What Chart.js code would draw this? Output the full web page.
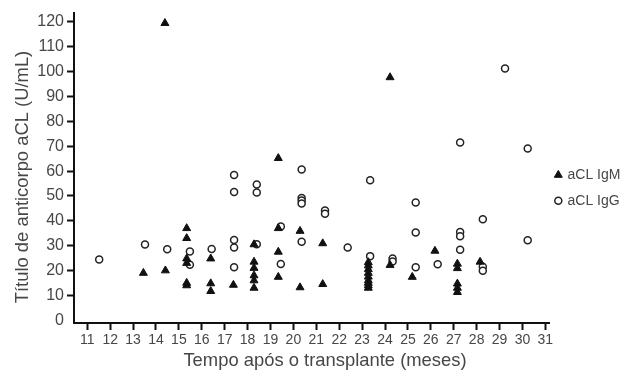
<!DOCTYPE html>
<html>
<head>
<meta charset="utf-8">
<script src="https://cdn.jsdelivr.net/npm/chart.js@4.4.1/dist/chart.umd.min.js"></script>
<style>
html,body{margin:0;padding:0;background:#fff;}
#wrap{width:633px;height:374px;position:relative;}
</style>
</head>
<body>
<div id="wrap"><canvas id="c" width="633" height="374"></canvas></div>
<script>
// ---- data ----
const seriesLabels = ['aCL IgM', 'aCL IgG'];

const igmMonths = [13.45, 14.41, 14.39,
  15.34, 15.34, 15.34, 15.34, 15.34, 15.34,
  16.39, 16.39, 16.39,
  17.38,
  18.28, 18.28, 18.28, 18.28, 18.28, 18.28,
  19.34, 19.34, 19.34, 19.34,
  20.29, 20.29,
  21.28, 21.28,
  23.27, 23.27, 23.27, 23.27, 23.27, 23.27, 23.27, 23.27, 23.27,
  24.22, 24.22,
  25.19,
  26.18,
  27.16, 27.16, 27.16, 27.16, 27.16,
  28.15];
const igmValues = [19, 20, 119.5,
  37, 33, 24.8, 23, 15, 14,
  24.8, 14.8, 11.7,
  14.2,
  30.5, 23.5, 21, 18, 16, 13,
  65.2, 37, 27.5, 17.4,
  35.9, 13.2,
  30.9, 14.5,
  23.3, 22, 20.5, 19, 17.5, 16, 15, 14, 13,
  97.7, 22.2,
  17.4,
  27.9,
  22.7, 20.9, 14.7, 13, 11.3,
  23.5];

const iggMonths = [11.52, 13.52, 14.49,
  15.48, 15.48,
  16.43,
  17.41, 17.41, 17.41, 17.41, 17.41,
  18.4, 18.4, 18.4,
  19.45, 19.45,
  20.36, 20.36, 20.36, 20.36, 20.36,
  21.38, 21.38,
  22.37,
  23.35, 23.35,
  24.33, 24.33,
  25.34, 25.34, 25.34,
  26.3,
  27.28, 27.28, 27.28, 27.28,
  28.27, 28.27, 28.27,
  29.24,
  30.23, 30.23];
const iggValues = [24.4, 30.5, 28.6,
  27.7, 22.3,
  28.7,
  58.4, 51.6, 32.3, 29.3, 21.3,
  54.6, 51.4, 30.6,
  37.7, 22.6,
  60.6, 49.2, 48.2, 47, 31.6,
  44.2, 42.8,
  29.3,
  56.3, 25.8,
  24.8, 23.6,
  47.4, 35.3, 21.3,
  22.5,
  71.5, 35.5, 33.8, 28.4,
  40.6, 21.5, 19.9,
  101.3,
  69.1, 32.2];

const xTickValues = [11,12,13,14,15,16,17,18,19,20,21,22,23,24,25,26,27,28,29,30,31];
const yTickValues = [0,10,20,30,40,50,60,70,80,90,100,110,120];
const xTitle = 'Tempo após o transplante (meses)';
const yTitle = 'Título de anticorpo aCL (U/mL)';

// ---- chart ----
const toPoints = (xs, ys) => xs.map((x, i) => ({x: x, y: ys[i]}));
const textColor = '#474747';
const fontFamily = "'Liberation Sans', Arial, Helvetica, sans-serif";

const decorPlugin = {
  id: 'decor',
  afterDraw(chart) {
    const ctx = chart.ctx;
    ctx.save();
    ctx.fillStyle = textColor;
    ctx.font = '18.4px ' + fontFamily;
    ctx.textAlign = 'center';
    ctx.textBaseline = 'middle';
    ctx.fillText(xTitle, 325, 361);
    ctx.save();
    ctx.translate(23, 177);
    ctx.rotate(-Math.PI / 2);
    ctx.fillText(yTitle, 0, 0);
    ctx.restore();
    // legend
    const legendRows = [175, 200.7];
    chart.data.datasets.forEach((ds, i) => {
      const y = legendRows[i];
      ctx.fillStyle = ds.backgroundColor;
      ctx.strokeStyle = ds.borderColor;
      ctx.lineWidth = ds.borderWidth;
      Chart.helpers.drawPoint(ctx, {pointStyle: ds.pointStyle, radius: ds.pointRadius, borderWidth: ds.borderWidth, rotation: 0}, 558.3, y);
      ctx.fillStyle = textColor;
      ctx.font = '14px ' + fontFamily;
      ctx.textAlign = 'left';
      ctx.fillText(ds.label, 567.5, y);
    });
    ctx.restore();
  }
};

new Chart(document.getElementById('c'), {
  type: 'scatter',
  data: {
    datasets: [
      {
        label: seriesLabels[0],
        data: toPoints(igmMonths, igmValues),
        pointStyle: 'triangle',
        pointRadius: 4.6,
        backgroundColor: '#111',
        borderColor: '#111',
        borderWidth: 1
      },
      {
        label: seriesLabels[1],
        data: toPoints(iggMonths, iggValues),
        pointStyle: 'circle',
        pointRadius: 3.5,
        backgroundColor: '#fff',
        borderColor: '#222',
        borderWidth: 1.5
      }
    ]
  },
  options: {
    responsive: false,
    animation: false,
    layout: {padding: {top: 13, right: 84, left: 0, bottom: 0}},
    plugins: {legend: {display: false}, tooltip: {enabled: false}},
    scales: {
      x: {
        type: 'linear',
        min: 10.42,
        max: 31.16,
        afterBuildTicks(scale) { scale.ticks = xTickValues.map(v => ({value: v})); },
        afterFit(scale) { scale.height = 51; },
        border: {display: true, color: '#111', width: 2},
        grid: {drawOnChartArea: false, drawTicks: true, tickLength: 7, tickWidth: 2, tickColor: '#111'},
        ticks: {color: textColor, font: {size: 14, family: fontFamily}, padding: 2, maxRotation: 0, autoSkip: false}
      },
      y: {
        type: 'linear',
        min: -1.1,
        max: 123.6,
        afterBuildTicks(scale) { scale.ticks = yTickValues.map(v => ({value: v})); },
        afterFit(scale) { scale.width = 74; },
        border: {display: true, color: '#111', width: 2},
        grid: {drawOnChartArea: false, drawTicks: true, tickLength: 7, tickWidth: 2,
               tickColor: (c) => (c.tick && c.tick.value === 0) ? 'rgba(0,0,0,0)' : '#111'},
        ticks: {color: textColor, font: {size: 16, family: fontFamily}, padding: 3, autoSkip: false}
      }
    }
  },
  plugins: [decorPlugin]
});
</script>
</body>
</html>
